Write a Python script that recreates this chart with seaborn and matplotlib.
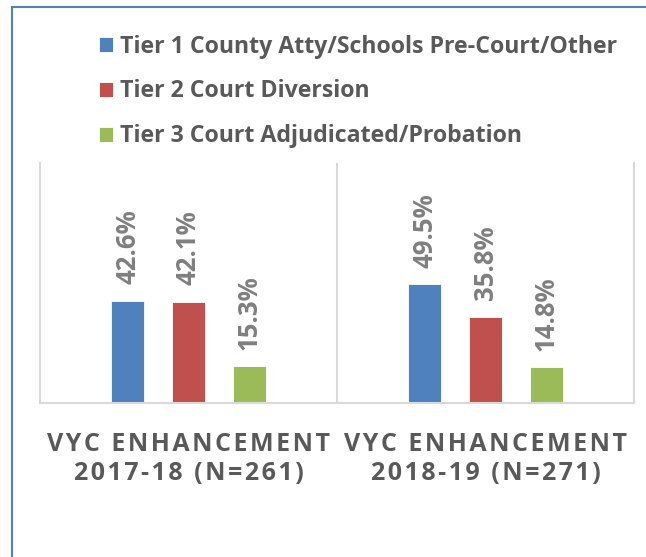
import matplotlib.pyplot as plt
import matplotlib as mpl
import seaborn as sns
import pandas as pd

# chart values
periods = ["VYC ENHANCEMENT\n2017-18 (N=261)", "VYC ENHANCEMENT\n2018-19 (N=271)"]
tiers = [
    "Tier 1 County Atty/Schools Pre-Court/Other",
    "Tier 2 Court Diversion",
    "Tier 3 Court Adjudicated/Probation",
]
tier1 = [0.426, 0.495]
tier2 = [0.421, 0.358]
tier3 = [0.153, 0.148]
colors = ["#4F81BD", "#C0504D", "#9BBB59"]

rows = []
for tier, vals in zip(tiers, [tier1, tier2, tier3]):
    for period, v in zip(periods, vals):
        rows.append({"period": period, "tier": tier, "share": v})
df = pd.DataFrame(rows)

sns.set_style("white")
plt.rcParams["font.family"] = ["Open Sans", "DejaVu Sans"]


# Excel-style letter spacing via hair spaces
def spaced(text):
    return "\n".join("\u200a".join(line) for line in text.split("\n"))


fig = plt.figure(figsize=(6.46, 5.57), dpi=100)
ax = fig.add_axes([40 / 646, 1 - 403 / 557, 594 / 646, 240 / 557])

sns.barplot(
    data=df,
    x="period",
    y="share",
    hue="tier",
    order=periods,
    hue_order=tiers,
    palette=colors,
    saturation=1,
    width=0.615,
    gap=0.47,
    edgecolor="white",
    linewidth=0.6,
    ax=ax,
)

handles, labels = ax.get_legend_handles_labels()
if ax.get_legend() is not None:
    ax.get_legend().remove()

# rotated percentage labels above each bar
for cont in ax.containers:
    ax.bar_label(
        cont,
        labels=[f"{b.get_height() * 100:.1f}%" for b in cont],
        rotation=90,
        padding=12,
        color="#7F7F7F",
        fontsize=18.5,
        fontweight="bold",
    )

ax.set_xlim(-0.5, 1.5)
ax.set_ylim(0, 1)
ax.set_yticks([])
ax.set_xlabel("")
ax.set_ylabel("")
ax.set_xticks(range(len(periods)))
ax.set_xticklabels(
    [spaced(p) for p in periods],
    fontsize=18,
    fontweight="bold",
    color="#595959",
    linespacing=1.22,
)
ax.tick_params(axis="x", length=0, pad=21)

grid_c = "#D9D9D9"
ax.spines["top"].set_visible(False)
for side in ["left", "right", "bottom"]:
    ax.spines[side].set_color(grid_c)
    ax.spines[side].set_linewidth(1.5)
ax.axvline(0.5, color=grid_c, linewidth=1.5, zorder=0)

fig.legend(
    handles,
    labels,
    loc="upper left",
    bbox_to_anchor=(87 / 646, 1 - 23 / 557),
    frameon=False,
    prop={"weight": "bold", "size": 16.7},
    labelcolor="#595959",
    handlelength=0.62,
    handleheight=0.62,
    handletextpad=0.3,
    labelspacing=0.9,
    borderpad=0,
)

# outer chart frame (cut off at right and bottom)
frame_c = "#4F81BD"
fig.add_artist(
    mpl.lines.Line2D([12 / 646, 12 / 646], [0, 1 - 7 / 557], transform=fig.transFigure, color=frame_c, lw=1.5)
)
fig.add_artist(
    mpl.lines.Line2D([12 / 646, 1], [1 - 7 / 557, 1 - 7 / 557], transform=fig.transFigure, color=frame_c, lw=1.5)
)

fig.savefig("out.png", dpi=100)
